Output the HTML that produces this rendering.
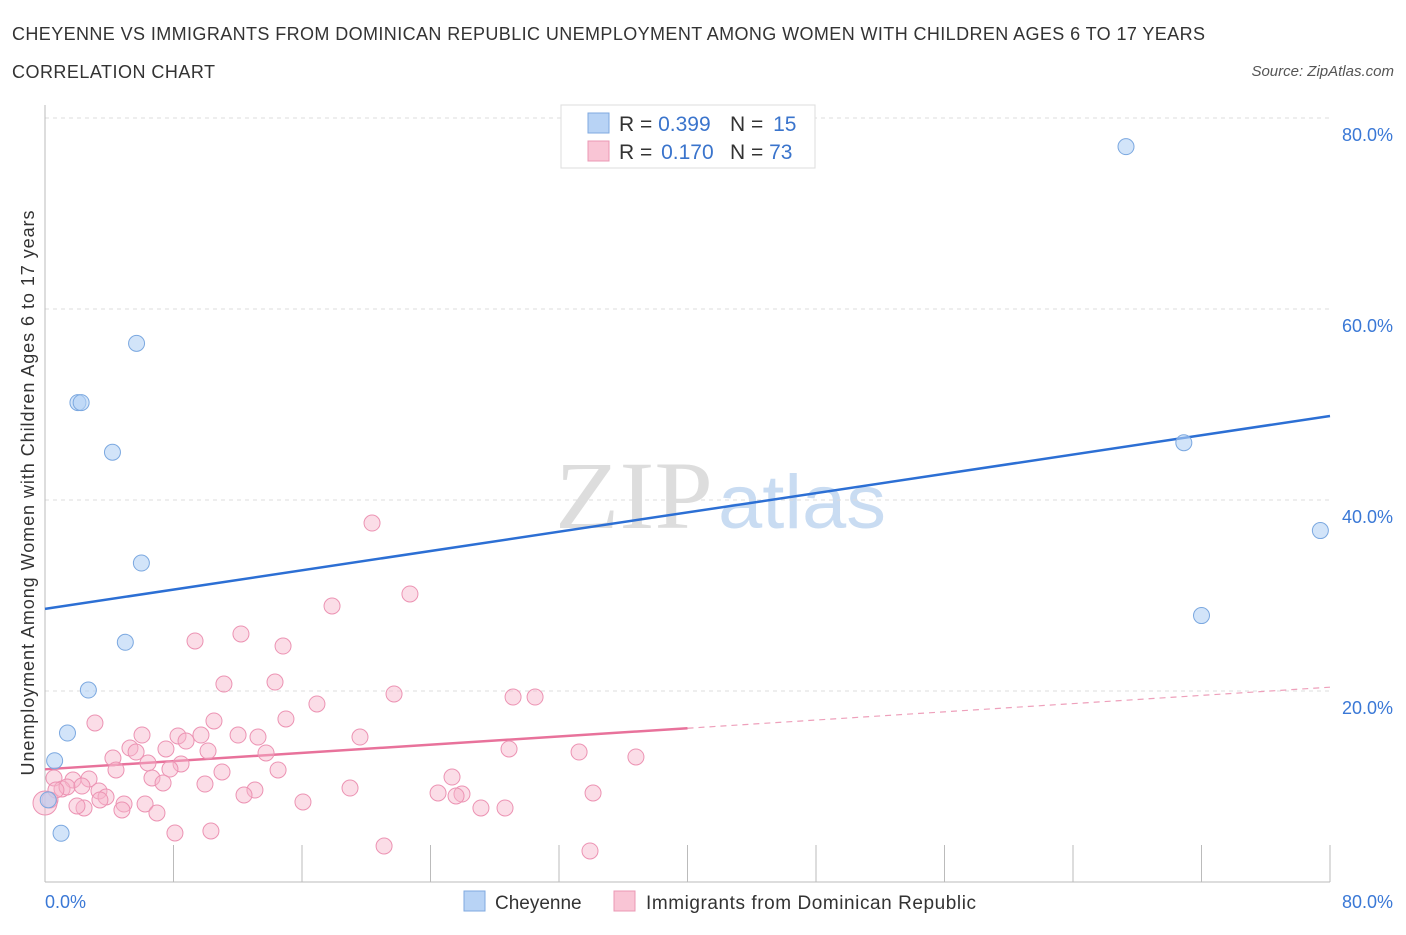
<!DOCTYPE html>
<html><head><meta charset="utf-8"><style>
body{margin:0;background:#fff;font-family:"Liberation Sans",sans-serif;}
</style></head><body>
<svg id="chart" width="1406" height="930" xmlns="http://www.w3.org/2000/svg">
<text x="12" y="40" font-size="18" fill="#333" textLength="1193" lengthAdjust="spacing">CHEYENNE VS IMMIGRANTS FROM DOMINICAN REPUBLIC UNEMPLOYMENT AMONG WOMEN WITH CHILDREN AGES 6 TO 17 YEARS</text>
<text x="12" y="78" font-size="18" fill="#333" textLength="203" lengthAdjust="spacing">CORRELATION CHART</text>
<text x="1394" y="76" font-size="15" fill="#555" font-style="italic" text-anchor="end">Source: ZipAtlas.com</text>
<text x="555" y="528" font-size="96" fill="#ddd" font-family="Liberation Serif,serif" textLength="158" lengthAdjust="spacingAndGlyphs">ZIP</text>
<text x="718" y="528" font-size="76" fill="#c9dcf2" textLength="168" lengthAdjust="spacingAndGlyphs">atlas</text>
<g id="grid"></g><g id="axes"></g><g id="lines"></g><g id="pts"></g>
<text transform="translate(34,493) rotate(-90)" font-size="18" fill="#333" text-anchor="middle" textLength="565" lengthAdjust="spacing">Unemployment Among Women with Children Ages 6 to 17 years</text>
<g>
<rect x="561" y="105" width="254" height="63" fill="#fff" stroke="#ddd"/>
<rect x="588" y="113" width="21" height="20" fill="#b8d3f5" stroke="#7fa9e0"/>
<text x="619" y="131" font-size="21" fill="#333">R = <tspan fill="#3a74cc">0.399</tspan></text>
<text x="730" y="131" font-size="21" fill="#333">N = <tspan fill="#3a74cc" dx="4">15</tspan></text>
<rect x="588" y="141" width="21" height="20" fill="#f9c5d5" stroke="#eb98b4"/>
<text x="619" y="159" font-size="21" fill="#333">R = <tspan fill="#3a74cc" dx="3">0.170</tspan></text>
<text x="730" y="159" font-size="21" fill="#333">N = <tspan fill="#3a74cc">73</tspan></text>
</g>
<g>
<rect x="464" y="891" width="21" height="20" fill="#b8d3f5" stroke="#7fa9e0"/>
<text x="495" y="909" font-size="19" fill="#333">Cheyenne</text>
<rect x="614" y="891" width="21" height="20" fill="#f9c5d5" stroke="#eb98b4"/>
<text x="646" y="909" font-size="19" fill="#333" textLength="330" lengthAdjust="spacing">Immigrants from Dominican Republic</text>
</g>
</svg>
<script>
const yTicks=[20,40,60,80];
const xTickLabels=["0.0%","80.0%"];
const blueX=[67.3,5.7,2.05,2.25,4.2,70.9,79.4,6.0,72.0,5.0,2.7,1.4,0.6,0.2,1.0];
const blueY=[77.0,56.4,50.2,50.2,45.0,46.0,36.8,33.4,27.9,25.1,20.1,15.6,12.7,8.6,5.1];
const pinkPx=[[372,523],[332,606],[410,594],[195,641],[241,634],[283,646],[224,684],[275,682],[394,694],[513,697],[535,697],[317,704],[95,723],[214,721],[286,719],[142,735],[178,736],[201,735],[238,735],[258,737],[360,737],[186,741],[130,748],[166,749],[208,751],[266,753],[509,749],[579,752],[636,757],[113,758],[148,763],[181,764],[116,770],[222,772],[278,770],[170,769],[152,778],[89,779],[452,777],[73,780],[54,778],[62,789],[67,787],[82,786],[99,791],[163,783],[205,784],[350,788],[255,790],[244,795],[438,793],[462,794],[456,796],[593,793],[106,797],[100,800],[50,800],[124,804],[145,804],[84,808],[303,802],[481,808],[505,808],[122,810],[157,813],[175,833],[211,831],[384,846],[590,851],[56,790],[77,806],[136,752],[45,803]];
const pinkX=pinkPx.map(p=>+((p[0]-45)/16.0625).toFixed(2));
const pinkY=pinkPx.map(p=>+((882-p[1])/9.55).toFixed(2));
const blueLine=[28.6,48.8];
const pinkLine=[11.8,20.4];
const X=v=>45+v*16.0625, Y=v=>882-v*9.55;
const NS="http://www.w3.org/2000/svg";
function mk(t,a,p){const e=document.createElementNS(NS,t);for(const k in a)e.setAttribute(k,a[k]);document.getElementById(p).appendChild(e);return e;}
yTicks.forEach(t=>{
 const l=mk('line',{x1:45,x2:1330,y1:Y(t),y2:Y(t),stroke:'#ddd','stroke-dasharray':'4,4'},'grid');
 
 
 const tx=mk('text',{x:1393,y:Y(t)+23,'font-size':18,fill:'#3a78d6','text-anchor':'end'},'grid');
 tx.textContent=t.toFixed(1)+'%';
 
 
});
const ax=mk('line',{x1:45,x2:1330,y1:882,y2:882,stroke:'#bbb'},'axes');


const ay=mk('line',{x1:45,x2:45,y1:105,y2:882,stroke:'#bbb'},'axes');


for(let i=0;i<=10;i++){const t=mk('line',{x1:X(i*8),x2:X(i*8),y1:845,y2:882,stroke:'#bbb'},'axes');
 
 }
[[0,'start',45],[80,'end',1393]].forEach((d,i)=>{const t=mk('text',{x:d[2],y:908,'font-size':18,fill:'#3a78d6','text-anchor':d[1]},'axes');t.textContent=xTickLabels[i];
 
 });
const bl=mk('line',{x1:X(0),y1:Y(blueLine[0]),x2:X(80),y2:Y(blueLine[1]),stroke:'#2c6fd4','stroke-width':2.5},'lines');


const pm=pinkLine[0]+(pinkLine[1]-pinkLine[0])*0.5;
const pl=mk('line',{x1:X(0),y1:Y(pinkLine[0]),x2:X(40),y2:Y(pm),stroke:'#e8729b','stroke-width':2.5},'lines');


const pd=mk('line',{x1:X(40),y1:Y(pm),x2:X(80),y2:Y(pinkLine[1]),stroke:'#eea0bb','stroke-width':1.2,'stroke-dasharray':'6,5'},'lines');


pinkX.forEach((x,i)=>{const c=mk('circle',{cx:X(x),cy:Y(pinkY[i]),r:i==pinkX.length-1?12:8,fill:'rgba(246,180,202,0.45)',stroke:'#ec93b3','stroke-width':1},'pts');
 
 });
blueX.forEach((x,i)=>{const c=mk('circle',{cx:X(x),cy:Y(blueY[i]),r:8,fill:'rgba(180,210,245,0.6)',stroke:'#7ba8e0','stroke-width':1},'pts');
 
 });
</script>
</body></html>
